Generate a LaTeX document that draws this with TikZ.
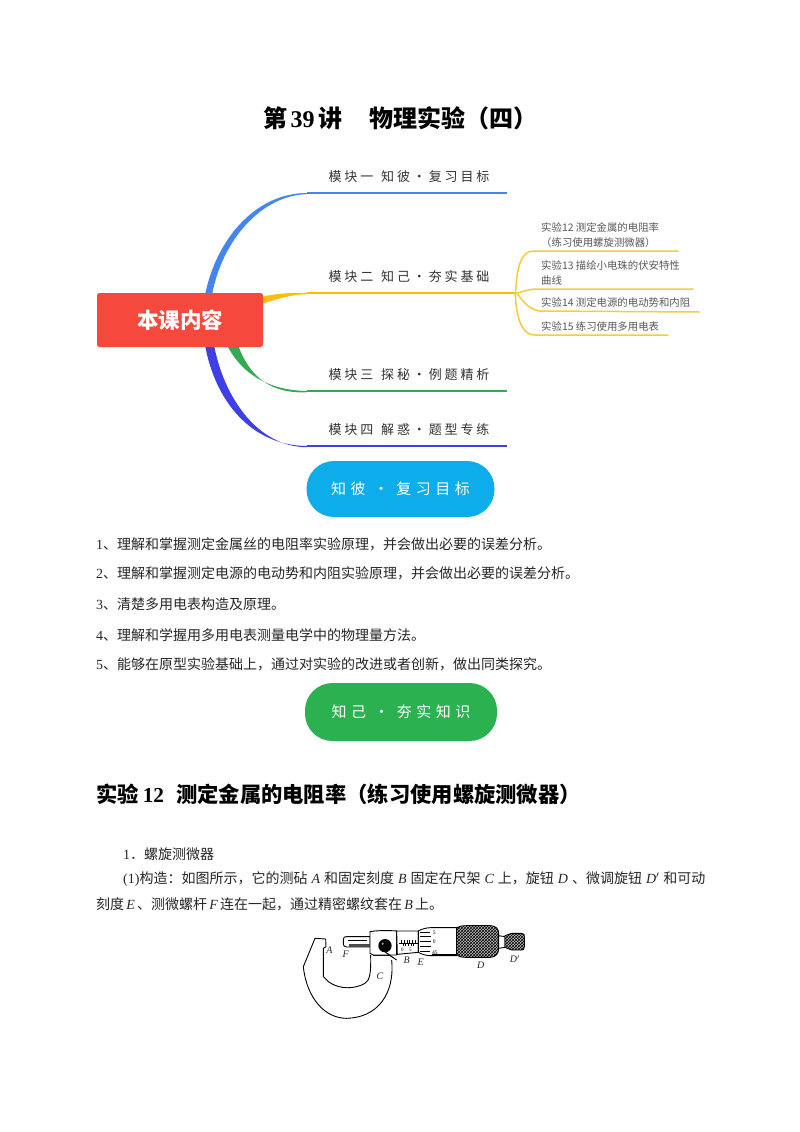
\documentclass[tikz,border=0pt]{standalone}
\usepackage{fontspec}
\usetikzlibrary{patterns}
\setmainfont{Noto Sans CJK SC}
\newfontfamily\latf{Liberation Serif}
\newfontfamily\spaced{Noto Sans CJK SC}[LetterSpace=22]
\newfontfamily\spacedw{Noto Sans CJK SC}[LetterSpace=30]
\newcommand{\lt}[1]{{\latf #1}}
\newcommand{\li}[1]{\hspace{2.2pt}{\latf\itshape #1}\hspace{2.2pt}}
\newcommand{\lj}[1]{\hspace{4pt}{\latf\itshape #1}\hspace{4pt}}
\definecolor{cblue}{HTML}{4286EE}
\definecolor{cyel}{HTML}{FBBE0A}
\definecolor{cyell}{HTML}{F7CB3A}
\definecolor{cgreen}{HTML}{35A853}
\definecolor{cind}{HTML}{3F3FE6}
\definecolor{cred}{HTML}{F4493C}
\definecolor{pillb}{HTML}{0DADEB}
\definecolor{pillg}{HTML}{2BB14F}
\tikzset{
 x=1pt,y=-1pt,
 body/.style={anchor=west,inner sep=0pt,font=\fontsize{14}{16}\selectfont,text=black!85},
 head/.style={inner sep=0pt,font=\fontsize{21.3}{24}\selectfont\bfseries,text=black},
 modlabel/.style={inner sep=0pt,font=\fontsize{13}{15}\selectfont\spaced,text=black!80},
 sublabel/.style={anchor=west,inner sep=0pt,font=\fontsize{10.4}{12}\selectfont,text=black!65},
 pill/.style={rounded corners=27.5pt,inner sep=0pt,text=white,font=\fontsize{15}{18}\selectfont\spacedw},
 branchline/.style={line width=1.6pt},
 subline/.style={line width=1.5pt,cyell,line cap=round},
 mic/.style={line width=0.9pt,black},
 miclabel/.style={inner sep=0pt,font=\fontsize{10}{12}\latf\itshape\selectfont,text=black!85}
}
\begin{document}
\begin{tikzpicture}
\useasboundingbox (0,0) rectangle (800,1132);
\fill[white] (0,0) rectangle (800,1132);

\node[anchor=west,inner sep=0pt,font=\fontsize{24}{28}\selectfont\bfseries] (title) at (263,118) {第\hspace{3.5pt}{\latf\bfseries 39}\hspace{3.5pt}讲\hspace{27pt}物理实验（四）};

% mind map
\coordinate (e1) at (507,193);
\coordinate (k1) at (307,193);
\coordinate (e2) at (515,293);
\coordinate (k2) at (307,293);
\coordinate (e3) at (507,391);
\coordinate (k3) at (307,391);
\coordinate (e4) at (507,446);
\coordinate (k4) at (307,446);

\fill[cblue] (205,295) .. controls (216,240) and (255,193) .. (k1) -- ++(0,1.2) .. controls (262,195) and (222,240) .. (212,295) -- cycle;
\draw[cblue,branchline] (k1) -- (e1);
\fill[cyel] (260,297) .. controls (275,294) and (290,292.2) .. (k2) -- ++(0,1.2) .. controls (292,294.5) and (280,298) .. (260,304.5) -- cycle;
\draw[cyel,branchline] (k2) -- (e2);
\fill[cgreen] (227,345) .. controls (242,375) and (270,390.4) .. (k3) -- ++(0,1.2) .. controls (272,394) and (250,378) .. (238,345) -- cycle;
\draw[cgreen,branchline] (k3) -- (e3);
\fill[cind] (205,345) .. controls (215,400) and (250,445.4) .. (k4) -- ++(0,1.2) .. controls (258,447) and (224,398) .. (214,345) -- cycle;
\draw[cind,branchline] (k4) -- (e4);

\node[fill=cred,rounded corners=2.5pt,minimum width=166pt,minimum height=54pt,inner sep=0pt,text=white,font=\fontsize{21.5}{26}\selectfont\bfseries] (root) at (180,320) {本课内容};

\node[modlabel] (m1) at (409,177) {模块一 \,知彼·复习目标};
\node[modlabel] (m2) at (409,277) {模块二 \,知己·夯实基础};
\node[modlabel] (m3) at (409,375) {模块三 \,探秘·例题精析};
\node[modlabel] (m4) at (409,430) {模块四 \,解惑·题型专练};

\coordinate (s1) at (678,251);
\coordinate (s2) at (693,289);
\coordinate (s3) at (699,312);
\coordinate (s4) at (668,335);
\coordinate (j1) at (533,251);
\coordinate (j2) at (535,289);
\coordinate (j3) at (540,311);
\coordinate (j4) at (535,335);
\draw[subline] (e2) .. controls (517,293) and (514,252) .. (j1) -- (s1);
\draw[subline] (e2) .. controls (520,293) and (525,290) .. (j2) -- (s2);
\draw[subline] (e2) .. controls (520,293) and (524,309) .. (j3) -- (s3);
\draw[subline] (e2) .. controls (516,300) and (516,335) .. (j4) -- (s4);

\node[sublabel] (t1) at (541,228) {实验12 测定金属的电阻率};
\node[sublabel] (t1b) at (541,243) {（练习使用螺旋测微器）};
\node[sublabel] (t2) at (541,266) {实验13 描绘小电珠的伏安特性};
\node[sublabel] (t2b) at (541,281) {曲线};
\node[sublabel] (t3) at (541,303) {实验14 测定电源的电动势和内阻};
\node[sublabel] (t4) at (541,327) {实验15 练习使用多用电表};

% pills
\node[pill,fill=pillb,minimum width=188pt,minimum height=56pt] (p1) at (400.5,489) {知彼 · 复习目标};
\node[pill,fill=pillg,minimum width=192pt,minimum height=58pt] (p2) at (401,712) {知己 · 夯实知识};

% goals
\node[body] (g1) at (96,544) {\lt{1}、理解和掌握测定金属丝的电阻率实验原理，并会做出必要的误差分析。};
\node[body] (g2) at (96,573) {\lt{2}、理解和掌握测定电源的电动势和内阻实验原理，并会做出必要的误差分析。};
\node[body] (g3) at (96,604) {\lt{3}、清楚多用电表构造及原理。};
\node[body] (g4) at (96,635) {\lt{4}、理解和学握用多用电表测量电学中的物理量方法。};
\node[body] (g5) at (96,664) {\lt{5}、能够在原型实验基础上，通过对实验的改进或者创新，做出同类探究。};

\node[head,anchor=west] (h1) at (96,794) {实验\hspace{4pt}{\latf\bfseries 12}\hspace{12pt}测定金属的电阻率（练习使用螺旋测微器）};

\node[body] (b1) at (123,854) {\lt{1}．螺旋测微器};
\node[body] (b2) at (123,879) {\lt{(1)}构造：如图所示，它的测砧\lj{A}和固定刻度\lj{B}固定在尺架\lj{C}上，旋钮\lj{D}、微调旋钮\lj{D$'$}和可动};
\node[body] (b3) at (96,904) {刻度\li{E}、测微螺杆\li{F}连在一起，通过精密螺纹套在\li{B}上。};

% micrometer (zoom coordinates)
\begin{scope}[shift={(290,915)},x=0.3333pt,y=-0.3333pt]
 \draw[mic,line join=round] (242,120) .. controls (243,175) and (240,195) .. (225,205) .. controls (195,222) and (150,225) .. (115,200) -- (100,185) -- (100,100) -- (108,95) -- (107,72) -- (75,70) -- (40,155) .. controls (50,250) and (105,310) .. (170,310) .. controls (260,308) and (315,240) .. (305,135);
 \draw[mic] (250,120) -- (296,120);
 \draw[mic,fill=white] (160,72) .. controls (160,66) and (165,65) .. (170,65) -- (240,65) -- (240,96) -- (170,96) .. controls (164,96) and (160,92) .. (160,88) -- cycle;
 \draw[line width=0.9pt] (175,76) -- (232,76);
 \fill[black!70] (178,88) rectangle (240,95);
 \draw[mic,fill=white] (240,50) .. controls (260,46) and (300,46) .. (320,48) -- (320,120) -- (250,120) -- (240,115) -- cycle;
 \draw[mic,fill=white] (320,48) -- (385,48) -- (385,112) -- (322,118) -- cycle;
 \draw[line width=0.5pt] (327,85) -- (385,85);
 \foreach \xx in {335,343,351,359,367,375} \draw[line width=0.4pt] (\xx,75) -- (\xx,85);
 \foreach \xx in {339,347,355,363,371} \draw[line width=0.4pt] (\xx,85) -- (\xx,94);
 \node[inner sep=0pt,font=\fontsize{5}{6}\latf\selectfont] (n0) at (337,104) {0};
 \node[inner sep=0pt,font=\fontsize{5}{6}\latf\selectfont] (n5) at (361,104) {5};
 \draw[mic,fill=white] (385,48) .. controls (395,42) and (410,38) .. (422,38) -- (500,38) -- (500,122) -- (422,122) .. controls (410,122) and (395,118) .. (385,112) -- cycle;
 \foreach \yy/\dx in {52/30,65/33,80/34,95/33,108/30} \draw[line width=0.4pt] (390,\yy) -- (390+\dx,\yy);
 \node[inner sep=0pt,font=\fontsize{5.5}{6}\latf\selectfont] (s5) at (433,52) {5};
 \node[inner sep=0pt,font=\fontsize{5.5}{6}\latf\selectfont] (s0) at (433,80) {0};
 \node[inner sep=0pt,font=\fontsize{5.5}{6}\latf\selectfont] (s45) at (435,112) {45};
 \draw[line width=1pt] (425,118) -- (500,118);
 \draw[mic,fill=black!25] (500,40) .. controls (505,33) and (520,32) .. (530,32) -- (600,32) .. controls (618,32) and (626,42) .. (626,55) -- (626,100) .. controls (626,115) and (618,127) .. (600,127) -- (530,127) .. controls (515,127) and (505,125) .. (500,118) -- cycle;
 \path[pattern=crosshatch,pattern color=black] (500,40) .. controls (505,33) and (520,32) .. (530,32) -- (600,32) .. controls (618,32) and (626,42) .. (626,55) -- (626,100) .. controls (626,115) and (618,127) .. (600,127) -- (530,127) .. controls (515,127) and (505,125) .. (500,118) -- cycle;
 \draw[mic,fill=white] (626,62) -- (645,65) -- (645,97) -- (626,100) -- cycle;
 \draw[mic,fill=black!25] (645,62) -- (665,55) -- (695,55) .. controls (703,55) and (703,60) .. (703,65) -- (703,95) .. controls (703,103) and (700,105) .. (695,105) -- (665,105) -- (645,97) -- cycle;
 \path[pattern=crosshatch,pattern color=black] (645,62) -- (665,55) -- (695,55) .. controls (703,55) and (703,60) .. (703,65) -- (703,95) .. controls (703,103) and (700,105) .. (695,105) -- (665,105) -- (645,97) -- cycle;
 \fill[black] (285,92) circle (20);
 \fill[black!45] (278,86) circle (4);
 \draw[mic,fill=white] (286,111) -- (320,135) -- (300,122) -- cycle;
 \node[miclabel] (la) at (118,105) {A};
 \node[miclabel] (lf) at (167,118) {F};
 \node[miclabel] (lb) at (350,135) {B};
 \node[miclabel] (le) at (392,141) {E};
 \node[miclabel] (lc) at (270,185) {C};
 \node[miclabel] (ld) at (572,150) {D};
 \node[miclabel] (ldp) at (675,132) {D$'$};
\end{scope}
\end{tikzpicture}
\end{document}
